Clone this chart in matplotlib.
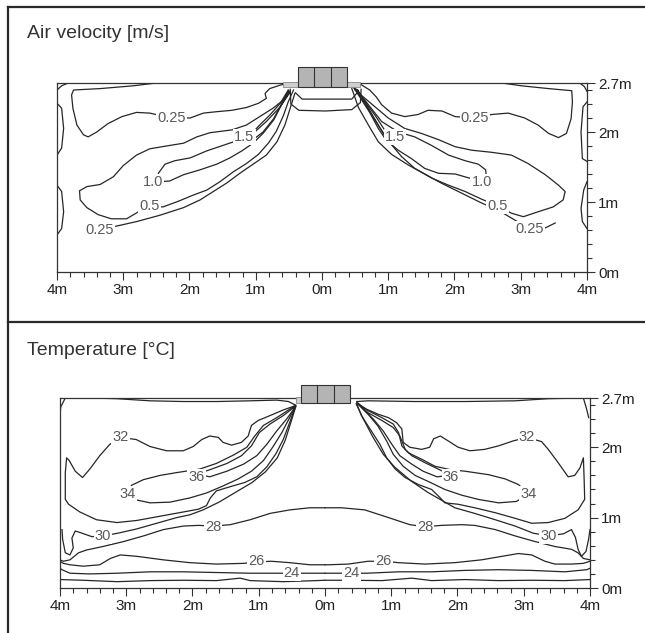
import matplotlib
matplotlib.use("Agg")
import matplotlib.pyplot as plt
from matplotlib.lines import Line2D
from matplotlib.patches import Rectangle
import numpy as np

plt.rcParams['font.family'] = ['Liberation Sans', 'DejaVu Sans']

# ---------------- axis ticks ----------------
x_ticks = [-4, -3, -2, -1, 0, 1, 2, 3, 4]
x_tick_labels = ["4m", "3m", "2m", "1m", "0m", "1m", "2m", "3m", "4m"]
y_ticks = [0, 1, 2, 2.7]
y_tick_labels = ["0m", "1m", "2m", "2.7m"]
titles = ["Air velocity [m/s]", "Temperature [°C]"]

# ---------------- air velocity contours (x m, y m) ----------------
vel_025_top_left = [(-2.50, 2.70), (-2.85, 2.66), (-3.35, 2.62), (-3.75, 2.60), (-3.78, 2.53), (-3.76, 2.34),
                    (-3.70, 2.10), (-3.60, 1.96), (-3.53, 1.93), (-3.40, 2.00), (-3.23, 2.12), (-3.02, 2.22),
                    (-2.80, 2.28), (-2.60, 2.27), (-2.27, 2.20), (-1.99, 2.20), (-1.79, 2.27), (-1.59, 2.29),
                    (-1.36, 2.31), (-1.14, 2.35), (-0.96, 2.41), (-0.84, 2.48), (-0.86, 2.55), (-0.79, 2.62),
                    (-0.63, 2.67), (-0.48, 2.70)]
vel_corner_left = [(-4.0, 2.60), (-3.93, 2.66), (-3.83, 2.70)]
vel_wall_left_1 = [(-4.0, 2.41), (-3.93, 2.34), (-3.90, 2.05), (-3.93, 1.77), (-4.0, 1.67)]
vel_wall_left_2 = [(-4.0, 1.24), (-3.93, 1.15), (-3.90, 0.86), (-3.93, 0.62), (-4.0, 0.53)]
vel_05_left = [(-0.43, 2.60), (-0.51, 2.43), (-0.58, 2.24), (-0.69, 2.01), (-0.81, 1.84), (-0.96, 1.68),
               (-1.14, 1.55), (-1.34, 1.43), (-1.54, 1.29), (-1.74, 1.17), (-1.94, 1.10), (-2.17, 1.01),
               (-2.40, 0.93), (-2.60, 0.93), (-2.77, 0.86), (-2.95, 0.76), (-3.18, 0.76), (-3.38, 0.82),
               (-3.55, 0.92), (-3.65, 1.03), (-3.66, 1.16), (-3.55, 1.22), (-3.35, 1.25), (-3.15, 1.36),
               (-3.00, 1.52), (-2.80, 1.67), (-2.60, 1.76), (-2.35, 1.80), (-2.09, 1.84), (-1.89, 1.93),
               (-1.69, 1.99), (-1.36, 2.03), (-1.14, 2.10), (-0.94, 2.22), (-0.74, 2.34), (-0.58, 2.46),
               (-0.48, 2.58)]
vel_10_left = [(-0.48, 2.57), (-0.61, 2.39), (-0.73, 2.17), (-0.89, 1.98), (-1.04, 1.84), (-1.21, 1.73),
               (-1.39, 1.63), (-1.59, 1.54), (-1.84, 1.46), (-2.09, 1.39), (-2.30, 1.30), (-2.45, 1.29),
               (-2.47, 1.41), (-2.37, 1.54), (-2.22, 1.59), (-1.99, 1.63), (-1.74, 1.73), (-1.49, 1.81),
               (-1.24, 1.89), (-1.04, 1.98), (-0.84, 2.15), (-0.63, 2.36), (-0.49, 2.58)]
vel_15_left = [(-0.51, 2.60), (-0.63, 2.41), (-0.79, 2.24), (-0.94, 2.10), (-1.06, 1.98), (-1.14, 1.91),
               (-1.04, 1.89), (-0.89, 2.00), (-0.73, 2.19), (-0.61, 2.40), (-0.50, 2.59)]
vel_025_low_left = [(-3.30, 0.61), (-3.13, 0.65), (-2.80, 0.72), (-2.45, 0.81), (-2.09, 0.92), (-1.84, 1.03),
                    (-1.64, 1.15), (-1.44, 1.27), (-1.24, 1.41), (-1.04, 1.54), (-0.84, 1.67), (-0.68, 1.86),
                    (-0.56, 2.10), (-0.48, 2.34), (-0.41, 2.55)]

vel_025_top_right = [(0.55, 2.70), (0.72, 2.60), (0.82, 2.50), (0.90, 2.39), (1.05, 2.27), (1.25, 2.22),
                     (1.45, 2.25), (1.60, 2.31), (1.81, 2.30), (2.01, 2.22), (2.31, 2.20), (2.56, 2.25),
                     (2.81, 2.27), (3.06, 2.20), (3.26, 2.10), (3.42, 1.98), (3.57, 1.92), (3.69, 1.98),
                     (3.76, 2.19), (3.78, 2.43), (3.77, 2.59), (3.42, 2.62), (3.01, 2.66), (2.64, 2.71)]
vel_corner_right = [(3.89, 2.70), (3.96, 2.65), (4.0, 2.58)]
vel_wall_right_1 = [(4.0, 2.43), (3.94, 2.36), (3.91, 2.00), (3.93, 1.62), (4.0, 1.58)]
vel_wall_right_2 = [(4.0, 1.29), (3.95, 1.17), (3.91, 0.91), (3.93, 0.72), (4.0, 0.62)]
vel_05_right = [(0.50, 2.60), (0.65, 2.48), (0.80, 2.36), (1.00, 2.20), (1.25, 2.05), (1.50, 1.98),
                (1.76, 1.89), (2.01, 1.79), (2.26, 1.74), (2.56, 1.71), (2.86, 1.67), (3.11, 1.55),
                (3.37, 1.39), (3.57, 1.24), (3.67, 1.15), (3.64, 1.03), (3.49, 0.93), (3.26, 0.86),
                (3.04, 0.79), (2.86, 0.84), (2.64, 0.95), (2.41, 1.04), (2.16, 1.15), (1.91, 1.24),
                (1.66, 1.34), (1.40, 1.48), (1.20, 1.65), (1.03, 1.84), (0.88, 2.05), (0.72, 2.29),
                (0.57, 2.53), (0.47, 2.65)]
vel_10_right = [(0.52, 2.61), (0.70, 2.39), (0.90, 2.15), (1.15, 2.00), (1.40, 1.93), (1.65, 1.81),
                (1.91, 1.67), (2.16, 1.59), (2.36, 1.54), (2.47, 1.46), (2.48, 1.36), (2.23, 1.34),
                (2.01, 1.40), (1.76, 1.41), (1.55, 1.48), (1.35, 1.62), (1.15, 1.74), (1.00, 1.86),
                (0.85, 2.10), (0.70, 2.34), (0.54, 2.60)]
vel_15_right = [(0.50, 2.62), (0.65, 2.43), (0.80, 2.24), (0.93, 2.05), (1.02, 1.94), (0.97, 1.88),
                (0.85, 2.05), (0.72, 2.28), (0.57, 2.50), (0.48, 2.63)]
vel_025_low_right = [(0.45, 2.62), (0.55, 2.35), (0.70, 2.10), (0.85, 1.86), (1.05, 1.68), (1.30, 1.53),
                     (1.55, 1.40), (1.80, 1.27), (2.10, 1.13), (2.40, 0.99), (2.70, 0.86), (2.95, 0.72),
                     (3.14, 0.61), (3.37, 0.63), (3.52, 0.70)]
vel_under_unit_outer = [(-0.48, 2.61), (-0.47, 2.40), (-0.35, 2.31), (0.05, 2.30), (0.45, 2.32),
                        (0.58, 2.42), (0.59, 2.61)]
vel_under_unit_inner = [(-0.40, 2.56), (-0.30, 2.47), (0.05, 2.47), (0.45, 2.47), (0.53, 2.56)]

vel_labels = [("0.25", -2.27, 2.20), ("1.5", -1.17, 1.93), ("1.0", -2.55, 1.28), ("0.5", -2.60, 0.94),
              ("0.25", -3.35, 0.60), ("0.25", 2.31, 2.20), ("1.5", 1.10, 1.93), ("1.0", 2.41, 1.28),
              ("0.5", 2.65, 0.95), ("0.25", 3.14, 0.61)]

# ---------------- temperature contours (x m, y m) ----------------
temp_ceiling_left = [(-3.92, 2.71), (-3.55, 2.70), (-3.14, 2.69), (-2.64, 2.66), (-2.14, 2.65), (-1.64, 2.65),
                     (-1.13, 2.66), (-0.73, 2.67), (-0.55, 2.65), (-0.45, 2.60)]
temp_corner_left = [(-4.0, 2.42), (-3.99, 2.57), (-3.92, 2.70)]
temp_32_left = [(-0.45, 2.59), (-0.63, 2.53), (-0.83, 2.45), (-1.01, 2.38), (-1.11, 2.31), (-1.16, 2.16),
                (-1.26, 2.07), (-1.41, 2.03), (-1.54, 2.07), (-1.61, 2.14), (-1.74, 2.16), (-1.86, 2.11),
                (-1.99, 2.01), (-2.14, 1.95), (-2.39, 1.95), (-2.64, 2.01), (-2.85, 2.11), (-3.09, 2.14),
                (-3.25, 2.04), (-3.40, 1.88), (-3.55, 1.69), (-3.66, 1.57), (-3.77, 1.66), (-3.86, 1.81),
                (-3.90, 1.85), (-3.92, 1.64), (-3.92, 1.26), (-3.87, 1.19), (-3.70, 1.08), (-3.45, 0.97),
                (-3.14, 0.93), (-2.84, 0.96), (-2.49, 1.02), (-2.14, 1.08), (-1.91, 1.12), (-1.79, 1.17),
                (-1.73, 1.28), (-1.64, 1.38), (-1.43, 1.44), (-1.21, 1.50), (-1.03, 1.58), (-0.88, 1.72),
                (-0.74, 1.91), (-0.63, 2.11), (-0.55, 2.31), (-0.48, 2.49), (-0.44, 2.59)]
temp_34_left = [(-0.44, 2.60), (-0.55, 2.53), (-0.73, 2.42), (-0.93, 2.31), (-1.06, 2.16), (-1.18, 2.00),
                (-1.38, 1.89), (-1.64, 1.77), (-1.89, 1.69), (-2.24, 1.64), (-2.49, 1.60), (-2.74, 1.54),
                (-2.92, 1.46), (-2.98, 1.34), (-2.89, 1.26), (-2.64, 1.21), (-2.34, 1.22), (-2.04, 1.28),
                (-1.79, 1.35), (-1.54, 1.45), (-1.31, 1.55), (-1.11, 1.66), (-0.93, 1.81), (-0.79, 2.00),
                (-0.65, 2.21), (-0.54, 2.41), (-0.45, 2.57)]
temp_36_left = [(-0.45, 2.58), (-0.63, 2.45), (-0.83, 2.33), (-0.99, 2.21), (-1.11, 2.02), (-1.26, 1.88),
                (-1.48, 1.77), (-1.74, 1.68), (-1.94, 1.62), (-1.74, 1.58), (-1.48, 1.66), (-1.23, 1.76),
                (-1.03, 1.88), (-0.88, 2.04), (-0.73, 2.23), (-0.58, 2.40), (-0.45, 2.57)]
temp_30_left = [(-3.97, 0.83), (-3.96, 0.69), (-3.92, 0.50), (-3.85, 0.47), (-3.80, 0.57), (-3.82, 0.71),
                (-3.77, 0.81), (-3.67, 0.78), (-3.52, 0.73), (-3.35, 0.74), (-3.12, 0.78), (-2.84, 0.84),
                (-2.54, 0.92), (-2.24, 1.00), (-2.04, 1.04), (-1.84, 1.11), (-1.60, 1.22), (-1.35, 1.36),
                (-1.10, 1.50), (-0.90, 1.65), (-0.72, 1.85), (-0.60, 2.10), (-0.50, 2.40), (-0.44, 2.58)]
temp_28_left = [(-4.0, 0.40), (-3.95, 0.38), (-3.85, 0.40), (-3.72, 0.50), (-3.60, 0.54), (-3.35, 0.59),
                (-3.04, 0.66), (-2.74, 0.74), (-2.44, 0.83), (-2.14, 0.88), (-1.91, 0.89), (-1.69, 0.88),
                (-1.43, 0.90), (-1.13, 0.97), (-0.83, 1.06), (-0.53, 1.11), (-0.23, 1.14), (0.0, 1.14)]
temp_26_left = [(-4.0, 0.38), (-3.95, 0.35), (-3.85, 0.33), (-3.65, 0.31), (-3.40, 0.33), (-3.24, 0.42),
                (-3.09, 0.47), (-2.84, 0.45), (-2.44, 0.40), (-2.04, 0.36), (-1.64, 0.34), (-1.23, 0.35),
                (-1.03, 0.37), (-0.81, 0.38), (-0.53, 0.36), (-0.23, 0.33), (0.0, 0.33)]
temp_24_left = [(-4.0, 0.28), (-3.97, 0.26), (-3.85, 0.21), (-3.55, 0.20), (-3.14, 0.21), (-2.64, 0.23),
                (-2.14, 0.23), (-1.64, 0.22), (-1.13, 0.21), (-0.68, 0.21), (-0.30, 0.21), (0.0, 0.21)]
temp_22_left = [(-4.0, 0.12), (-3.65, 0.11), (-3.14, 0.09), (-2.64, 0.105), (-2.14, 0.11), (-1.64, 0.105),
                (-1.28, 0.14), (-1.13, 0.105), (-0.63, 0.09), (-0.13, 0.105), (0.0, 0.11)]

temp_ceiling_right = [(0.48, 2.65), (0.65, 2.66), (1.36, 2.65), (2.11, 2.65), (2.87, 2.66), (3.37, 2.69),
                      (3.90, 2.70)]
temp_corner_right = [(3.90, 2.70), (3.95, 2.54), (3.98, 2.42)]
temp_32_right = [(0.50, 2.61), (0.63, 2.54), (0.80, 2.47), (0.96, 2.42), (1.08, 2.35), (1.16, 2.26),
                 (1.18, 2.07), (1.28, 2.00), (1.46, 1.97), (1.58, 2.00), (1.64, 2.12), (1.74, 2.16),
                 (1.86, 2.09), (2.01, 2.00), (2.19, 1.95), (2.41, 1.97), (2.62, 2.02), (2.84, 2.09),
                 (3.05, 2.14), (3.27, 2.08), (3.37, 1.97), (3.52, 1.78), (3.67, 1.58), (3.77, 1.60),
                 (3.85, 1.71), (3.90, 1.85), (3.91, 1.59), (3.92, 1.26), (3.82, 1.11), (3.62, 0.99),
                 (3.37, 0.93), (3.12, 0.92), (2.87, 0.99), (2.57, 1.07), (2.26, 1.14), (2.01, 1.19),
                 (1.81, 1.21), (1.74, 1.28), (1.61, 1.40), (1.41, 1.47), (1.21, 1.57), (1.06, 1.69),
                 (0.93, 1.85), (0.83, 2.04), (0.68, 2.26), (0.55, 2.45), (0.48, 2.61)]
temp_34_right = [(0.49, 2.63), (0.65, 2.52), (0.86, 2.42), (1.03, 2.33), (1.11, 2.21), (1.16, 2.02),
                 (1.26, 1.92), (1.46, 1.83), (1.66, 1.73), (1.90, 1.68), (2.11, 1.66), (2.47, 1.61),
                 (2.72, 1.55), (2.92, 1.47), (3.07, 1.34), (2.89, 1.23), (2.62, 1.21), (2.31, 1.26),
                 (2.06, 1.32), (1.81, 1.40), (1.59, 1.50), (1.36, 1.60), (1.18, 1.73), (1.03, 1.90),
                 (0.93, 2.09), (0.80, 2.30), (0.65, 2.47), (0.50, 2.61)]
temp_36_right = [(0.49, 2.63), (0.65, 2.49), (0.86, 2.38), (1.03, 2.28), (1.13, 2.16), (1.21, 1.97),
                 (1.31, 1.88), (1.51, 1.78), (1.71, 1.69), (1.90, 1.60), (1.69, 1.58), (1.48, 1.66),
                 (1.31, 1.76), (1.13, 1.88), (1.01, 2.04), (0.88, 2.23), (0.73, 2.40), (0.58, 2.54),
                 (0.48, 2.64)]
temp_30_right = [(0.47, 2.62), (0.58, 2.40), (0.72, 2.15), (0.88, 1.90), (1.05, 1.72), (1.30, 1.52),
                 (1.55, 1.36), (1.81, 1.22), (1.96, 1.14), (2.26, 1.06), (2.57, 0.97), (2.87, 0.88),
                 (3.14, 0.78), (3.37, 0.74), (3.60, 0.77), (3.72, 0.83), (3.78, 0.72), (3.82, 0.55),
                 (3.87, 0.45), (3.94, 0.52), (3.98, 0.70), (4.0, 0.83)]
temp_28_right = [(0.0, 1.14), (0.25, 1.14), (0.60, 1.11), (0.96, 1.00), (1.28, 0.90), (1.51, 0.87),
                 (1.76, 0.89), (2.06, 0.90), (2.26, 0.89), (2.57, 0.83), (2.87, 0.74), (3.17, 0.66),
                 (3.47, 0.59), (3.72, 0.55), (3.82, 0.50), (3.90, 0.42), (4.0, 0.40)]
temp_26_right = [(0.0, 0.33), (0.05, 0.33), (0.35, 0.34), (0.65, 0.38), (0.88, 0.38), (1.11, 0.36),
                 (1.51, 0.34), (1.96, 0.36), (2.36, 0.40), (2.67, 0.45), (2.92, 0.49), (3.12, 0.47),
                 (3.32, 0.38), (3.47, 0.34), (3.72, 0.34), (3.90, 0.35), (4.0, 0.38)]
temp_24_right = [(0.0, 0.21), (0.18, 0.21), (0.40, 0.21), (0.63, 0.21), (1.11, 0.23), (1.61, 0.23),
                 (2.11, 0.25), (2.62, 0.26), (3.12, 0.25), (3.62, 0.23), (3.95, 0.26), (4.0, 0.28)]
temp_22_right = [(0.0, 0.11), (0.35, 0.11), (0.86, 0.105), (1.31, 0.14), (1.61, 0.105), (2.11, 0.12),
                 (2.62, 0.105), (3.12, 0.11), (3.62, 0.105), (4.0, 0.12)]

temp_labels = [("32", -3.09, 2.14), ("36", -1.94, 1.58), ("34", -2.98, 1.34), ("30", -3.35, 0.74),
               ("28", -1.69, 0.87), ("26", -1.03, 0.38), ("24", -0.50, 0.21),
               ("32", 3.05, 2.14), ("36", 1.90, 1.58), ("34", 3.07, 1.34), ("30", 3.37, 0.74),
               ("28", 1.51, 0.87), ("26", 0.88, 0.38), ("24", 0.40, 0.21)]

vel_lines = [vel_025_top_left, vel_corner_left, vel_wall_left_1, vel_wall_left_2, vel_05_left, vel_10_left,
             vel_15_left, vel_025_low_left, vel_025_top_right, vel_corner_right, vel_wall_right_1,
             vel_wall_right_2, vel_05_right, vel_10_right, vel_15_right, vel_025_low_right,
             vel_under_unit_outer, vel_under_unit_inner]
temp_lines = [temp_ceiling_left, temp_corner_left, temp_32_left, temp_34_left, temp_36_left, temp_30_left,
              temp_28_left, temp_26_left, temp_24_left, temp_22_left, temp_ceiling_right, temp_corner_right,
              temp_32_right, temp_34_right, temp_36_right, temp_30_right, temp_28_right, temp_26_right,
              temp_24_right, temp_22_right]

W, H = 645, 633
fig = plt.figure(figsize=(W / 100, H / 100), dpi=100)
LINE_C = "#262626"


def px_axes(l, r, top, bottom):
    return [l / W, 1 - bottom / H, (r - l) / W, (bottom - top) / H]


def style_axes(ax):
    ax.set_xlim(-4, 4)
    ax.set_ylim(0, 2.7)
    for s in ["top", "left", "right", "bottom"]:
        ax.spines[s].set_color("#333333")
        ax.spines[s].set_linewidth(0.9)
    ax.set_xticks(x_ticks)
    ax.set_xticklabels(x_tick_labels, fontsize=11, color="#222222")
    ax.set_xticks(np.arange(-4, 4.01, 0.2), minor=True)
    ax.yaxis.tick_right()
    ax.set_yticks(y_ticks)
    ax.set_yticklabels(y_tick_labels, fontsize=11, color="#222222")
    ax.set_yticks(np.arange(0, 2.7, 0.2), minor=True)
    ax.tick_params(axis="both", which="major", direction="out", length=6, width=0.8, color="#333333", pad=2)
    ax.tick_params(axis="both", which="minor", direction="out", length=3.5, width=0.8, color="#333333")
    ax.set_facecolor("none")


def draw_unit(ax, y0, y1, sx0, sx1, sy0, sy1):
    ax.add_patch(Rectangle((sx0, sy0), sx1 - sx0, sy1 - sy0, facecolor="#cfcfcf", edgecolor="#888888",
                           linewidth=0.6, clip_on=False, zorder=5))
    ax.add_patch(Rectangle((-0.36, y0), 0.74, y1 - y0, facecolor="#b4b4b4", edgecolor="#333333",
                           linewidth=0.8, clip_on=False, zorder=6))
    for xd in (-0.12, 0.14):
        ax.plot([xd, xd], [y0, y1], color="#333333", lw=0.8, clip_on=False, zorder=7)


def draw_lines(ax, lines):
    for ln in lines:
        xs = [p[0] for p in ln]
        ys = [p[1] for p in ln]
        ax.plot(xs, ys, color=LINE_C, lw=0.9, solid_joinstyle="round", zorder=2)


def draw_labels(ax, labels):
    for txt, x, y in labels:
        ax.text(x, y, txt, fontsize=10.5, color="#5a5a5a", ha="center", va="center", zorder=4,
                bbox=dict(boxstyle="square,pad=0.08", facecolor="white", edgecolor="none"))


ax1 = fig.add_axes(px_axes(57, 587, 83, 272))
style_axes(ax1)
draw_lines(ax1, vel_lines)
draw_labels(ax1, vel_labels)
draw_unit(ax1, 2.64, 2.93, -0.59, 0.57, 2.64, 2.71)

ax2 = fig.add_axes(px_axes(60, 590, 398, 588))
style_axes(ax2)
draw_lines(ax2, temp_lines)
draw_labels(ax2, temp_labels)
draw_unit(ax2, 2.63, 2.89, -0.44, 0.38, 2.63, 2.71)

fig.text(27 / W, 1 - 33 / H, titles[0], fontsize=14, color="#333333", ha="left", va="center")
fig.text(27 / W, 1 - 351 / H, titles[1], fontsize=14, color="#333333", ha="left", va="center")

frame_kw = dict(color="#2a2a2a", lw=1.6, transform=fig.transFigure)
fig.add_artist(Line2D([8 / W, 1], [1 - 7 / H, 1 - 7 / H], **frame_kw))
fig.add_artist(Line2D([8 / W, 8 / W], [1 - 7 / H, 0], **frame_kw))
fig.add_artist(Line2D([8 / W, 1], [1 - 322 / H, 1 - 322 / H], **frame_kw))

fig.savefig("out.png", dpi=100, facecolor="white")
